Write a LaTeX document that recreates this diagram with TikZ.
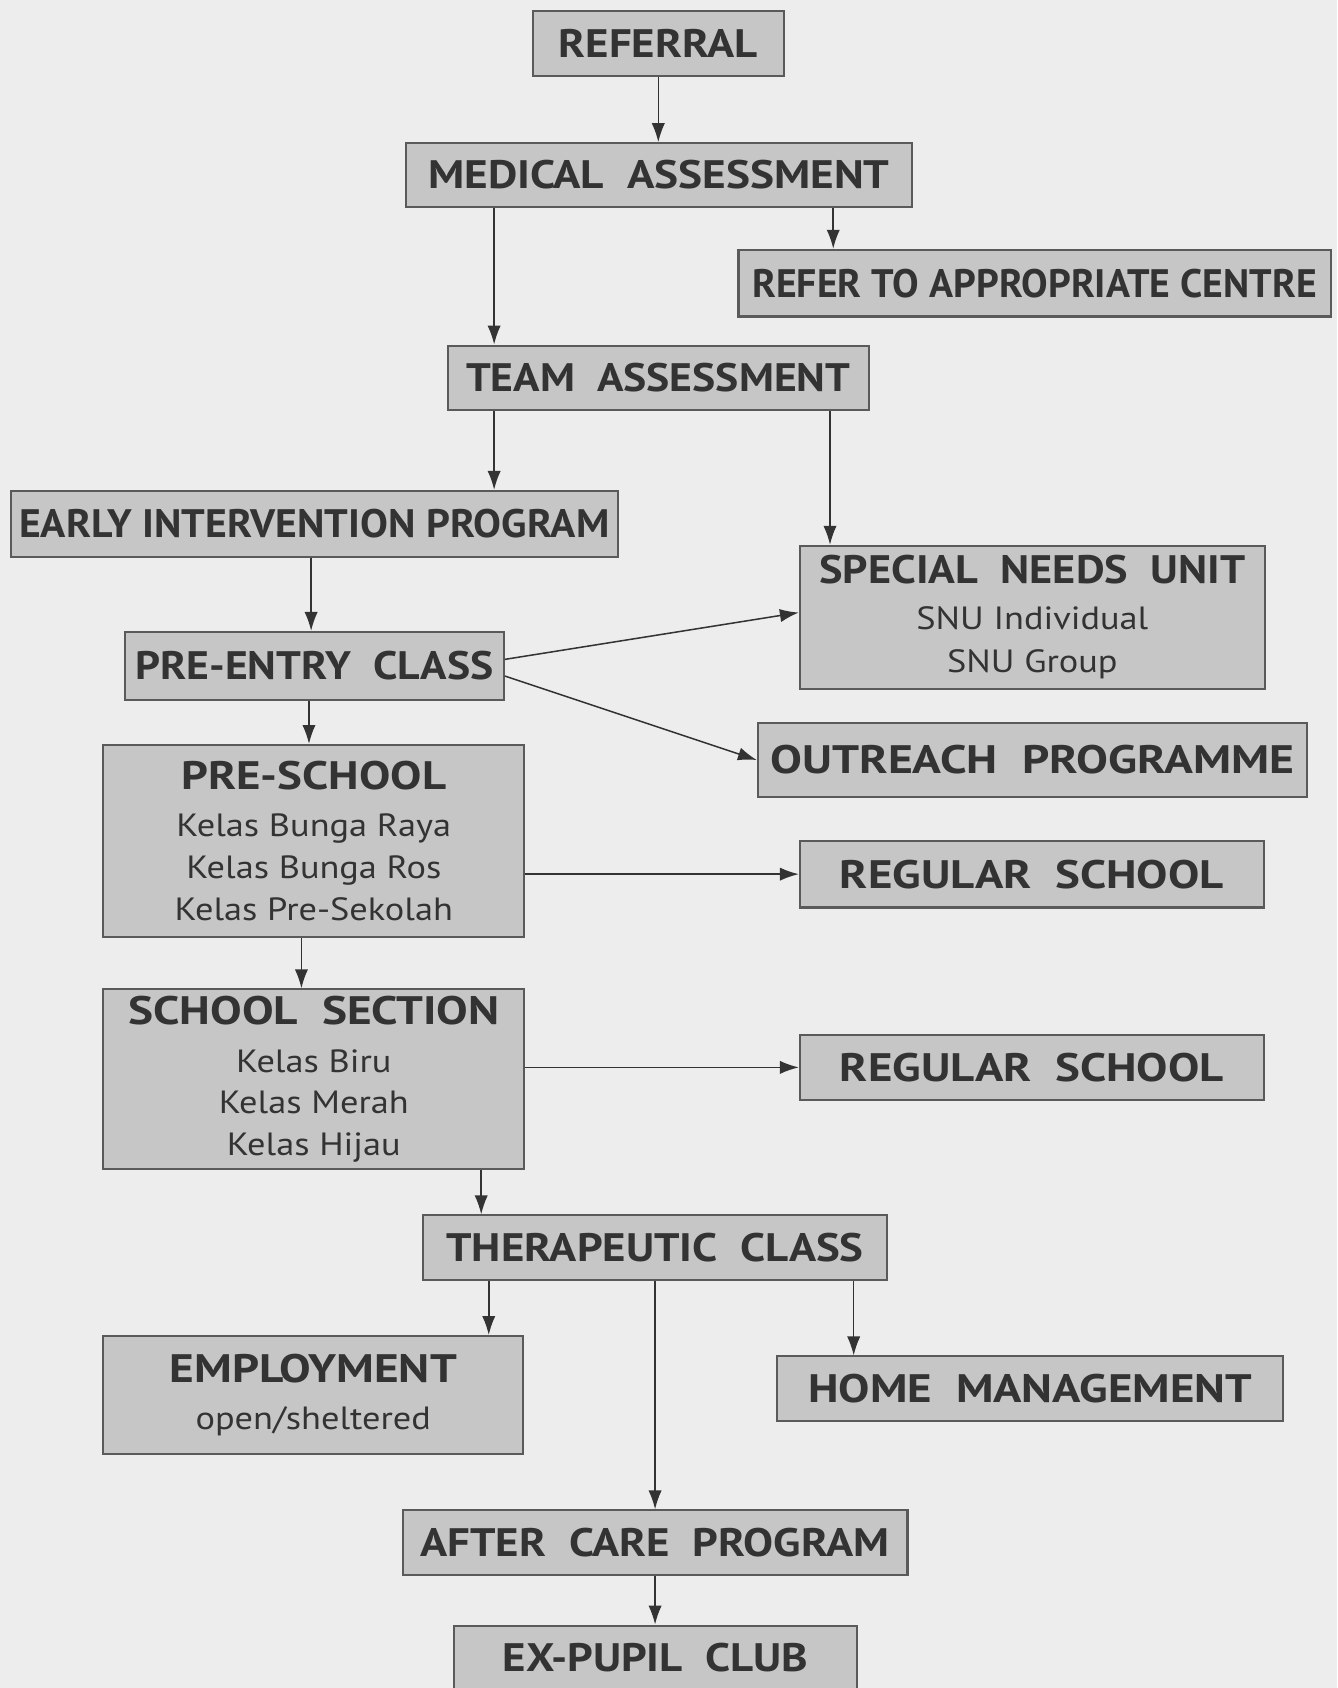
\documentclass[tikz,border=0pt]{standalone}
\usepackage{fontspec}
\setmainfont{PT Sans}
\newfontfamily\subfont{PT Sans}[FakeStretch=1.13]
\usepackage{tikz}
\usetikzlibrary{calc,arrows.meta}
\definecolor{paper}{HTML}{EDEDED}
\definecolor{boxfill}{HTML}{C6C6C6}
\definecolor{boxline}{HTML}{5A5A5A}
\definecolor{ink}{HTML}{333333}
\tikzset{>={Latex[length=10pt,width=7pt]}}
\tikzset{
  unit/.style={draw=boxline, fill=boxfill, line width=1.1pt, text=ink, inner sep=0pt,
    align=center, font=\fontsize{17}{22}\selectfont\subfont},
  head/.style={font=\fontsize{21}{25}\selectfont\rmfamily\bfseries\addfontfeatures{FakeStretch=#1}},
  head/.default=1.16,
  flow/.style={->, draw=ink, line width=0.8pt}
}
\newcommand{\hd}[2][1.16]{{\fontsize{21}{25}\selectfont\rmfamily\bfseries\addfontfeatures{FakeStretch=#1}#2}}

\begin{document}
\begin{tikzpicture}
    \useasboundingbox (0,0) rectangle (24.84,-31.36);
    \fill[paper] (0,0) rectangle (24.84,-31.36);

    \node[unit, head=1.13, minimum width=4.66cm, minimum height=1.22cm] (referral) at (12.23,-0.81) {REFERRAL};
    \node[unit, head=1.14, minimum width=9.40cm, minimum height=1.18cm] (medical) at (12.24,-3.25) {MEDICAL\ \ ASSESSMENT};
    \node[unit, head=1.0, minimum width=11.0cm, minimum height=1.24cm] (refer) at (19.22,-5.26) {REFER TO APPROPRIATE CENTRE};
    \node[unit, head=1.10, minimum width=7.82cm, minimum height=1.20cm] (team) at (12.23,-7.02) {TEAM\ \ ASSESSMENT};
    \node[unit, head=1.05, minimum width=11.28cm, minimum height=1.22cm] (early) at (5.84,-9.73) {EARLY INTERVENTION PROGRAM};
    \node[unit, minimum width=8.64cm, minimum height=2.66cm] (snu) at (19.18,-11.47)
        {\hd[1.115]{SPECIAL\ \ NEEDS\ \ UNIT}\\[2pt] SNU Individual\\[1pt] SNU Group};
    \node[unit, head=1.10, minimum width=7.04cm, minimum height=1.26cm] (preentry) at (5.84,-12.37) {PRE-ENTRY\ \ CLASS};
    \node[unit, head=1.20, minimum width=10.2cm, minimum height=1.36cm] (outreach) at (19.18,-14.12) {OUTREACH\ \ PROGRAMME};
    \node[unit, minimum width=7.82cm, minimum height=3.56cm] (preschool) at (5.83,-15.62)
        {\hd[1.18]{PRE-SCHOOL}\\[3pt] Kelas Bunga Raya\\ Kelas Bunga Ros\\ Kelas Pre-Sekolah};
    \node[unit, head=1.18, minimum width=8.62cm, minimum height=1.24cm] (regular1) at (19.17,-16.24) {REGULAR\ \ SCHOOL};
    \node[unit, minimum width=7.82cm, minimum height=3.34cm] (school) at (5.83,-20.05)
        {\hd[1.19]{SCHOOL\ \ SECTION}\\[3pt] Kelas Biru\\ Kelas Merah\\ Kelas Hijau};
    \node[unit, head=1.18, minimum width=8.62cm, minimum height=1.22cm] (regular2) at (19.17,-19.83) {REGULAR\ \ SCHOOL};
    \node[unit, head=1.13, minimum width=8.62cm, minimum height=1.20cm] (therapeutic) at (12.17,-23.18) {THERAPEUTIC\ \ CLASS};
    \node[unit, minimum width=7.80cm, minimum height=2.20cm] (employment) at (5.82,-25.92)
        {\hd[1.19]{EMPLOYMENT}\\[3pt] open/sheltered};
    \node[unit, head=1.18, minimum width=9.40cm, minimum height=1.20cm] (home) at (19.14,-25.80) {HOME\ \ MANAGEMENT};
    \node[unit, head=1.13, minimum width=9.38cm, minimum height=1.20cm] (aftercare) at (12.17,-28.66) {AFTER\ \ CARE\ \ PROGRAM};
    \node[unit, head=1.13, minimum width=7.48cm, minimum height=1.20cm] (expupil) at (12.18,-30.80) {EX-PUPIL\ \ CLUB};

    % top part
    \draw[flow] (referral.south) -- (referral.south |- medical.north);
    \draw[flow] ([xshift=-3.06cm]medical.south) -- ([xshift=-3.06cm]medical.south |- team.north);
    \draw[flow] ([xshift=3.24cm]medical.south) -- ([xshift=3.24cm]medical.south |- refer.north);
    \draw[flow] ([xshift=-3.05cm]team.south) -- ([xshift=-3.05cm]team.south |- early.north);
    \draw[flow] ([xshift=3.19cm]team.south) -- ([xshift=3.19cm]team.south |- snu.north);
    \draw[flow] ([xshift=-0.06cm]early.south) -- ([xshift=-0.06cm]early.south |- preentry.north);

    % pre-entry branches
    \draw[flow] ([yshift=0.12cm]preentry.east) -- ([yshift=0.09cm]snu.west);
    \draw[flow] ([yshift=-0.19cm]preentry.east) -- (outreach.west);
    \draw[flow] ([xshift=-0.1cm]preentry.south) -- ([xshift=-0.1cm]preentry.south |- preschool.north);
    \draw[flow] (preschool.east |- regular1.west) -- (regular1.west);
    \draw[flow] ([xshift=-0.23cm]preschool.south) -- ([xshift=-0.23cm]preschool.south |- school.north);
    \draw[flow] (school.east |- regular2.west) -- (regular2.west);
    \draw[flow] ([xshift=3.11cm]school.south) -- ([xshift=3.11cm]school.south |- therapeutic.north);

    % bottom part
    \draw[flow] ([xshift=-3.09cm]therapeutic.south) -- ([xshift=-3.09cm]therapeutic.south |- employment.north);
    \draw[flow] ([xshift=3.69cm]therapeutic.south) -- ([xshift=3.69cm]therapeutic.south |- home.north);
    \draw[flow] (therapeutic.south) -- (therapeutic.south |- aftercare.north);
    \draw[flow] (aftercare.south) -- (aftercare.south |- expupil.north);
\end{tikzpicture}
\end{document}
